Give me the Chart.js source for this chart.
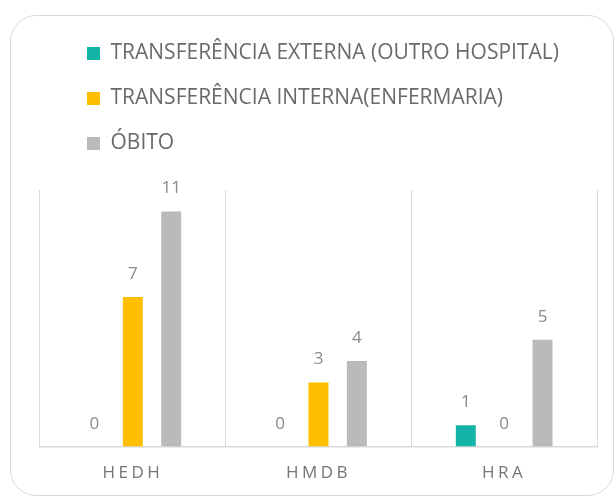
<!DOCTYPE html>
<html>
<head>
<meta charset="utf-8">
<script src="https://cdn.jsdelivr.net/npm/chart.js"></script>
<style>
  body { margin: 0; background: #fff; }
  #wrap { position: relative; width: 616px; height: 498px; overflow: hidden; }
  #frame { position: absolute; left: 10px; top: 15px; width: 604px; height: 481px; border: 1.5px solid #d9d9d9; border-radius: 26px; box-sizing: border-box; }
  canvas { position: absolute; left: 0; top: 0; }
</style>
</head>
<body>
<div id="wrap">
  <div id="frame"></div>
  <canvas id="chart" width="616" height="498"></canvas>
</div>
<script>
const categories = ["HEDH", "HMDB", "HRA"];
const seriesNames = ["TRANSFERÊNCIA EXTERNA (OUTRO HOSPITAL)", "TRANSFERÊNCIA INTERNA(ENFERMARIA)", "ÓBITO"];
const externa = [0, 0, 1];
const interna = [7, 3, 0];
const obito = [11, 4, 5];
const colors = ["#14B4A8", "#FFBF00", "#BABABA"];

const FONT = '"Open Sans", sans-serif';

// value labels above the bars + letter spacing for the category labels
const valueLabels = {
  id: "valueLabels",
  afterLayout(chart) {
    chart.legend.left = 63;
    chart.legend.top = 19;
  },
  afterDatasetsDraw(chart) {
    const ctx = chart.ctx;
    ctx.save();
    ctx.font = "17px " + FONT;
    ctx.fillStyle = "#8a8a8a";
    ctx.textAlign = "center";
    ctx.textBaseline = "alphabetic";
    chart.data.datasets.forEach((ds, i) => {
      chart.getDatasetMeta(i).data.forEach((bar, j) => {
        ctx.fillText(ds.data[j], bar.x, bar.y - 18);
      });
    });
    ctx.restore();
    ctx.letterSpacing = "3.5px";
  },
  afterDraw(chart) {
    chart.ctx.letterSpacing = "0px";
  }
};

new Chart(document.getElementById("chart"), {
  type: "bar",
  data: {
    labels: categories,
    datasets: [
      { label: seriesNames[0], data: externa, backgroundColor: colors[0] },
      { label: seriesNames[1], data: interna, backgroundColor: colors[1] },
      { label: seriesNames[2], data: obito, backgroundColor: colors[2] }
    ]
  },
  options: {
    responsive: false,
    animation: false,
    categoryPercentage: 0.62,
    barPercentage: 0.52,
    layout: { padding: { left: 40, right: 19, top: 45, bottom: -1 } },
    plugins: {
      legend: {
        position: "top",
        align: "start",
        labels: {
          boxWidth: 13,
          boxHeight: 13,
          padding: 24,
          color: "#6a6a6a",
          font: { family: FONT, size: 21 }
        }
      },
      tooltip: { enabled: false }
    },
    scales: {
      x: {
        grid: { color: "#d9d9d9", drawTicks: false, offset: true },
        border: { color: "#d9d9d9", width: 1.5 },
        ticks: { color: "#757575", font: { family: FONT, size: 17 }, padding: 16, z: 1 }
      },
      y: { display: false, min: 0, max: 12 }
    }
  },
  plugins: [valueLabels]
});
</script>
</body>
</html>
